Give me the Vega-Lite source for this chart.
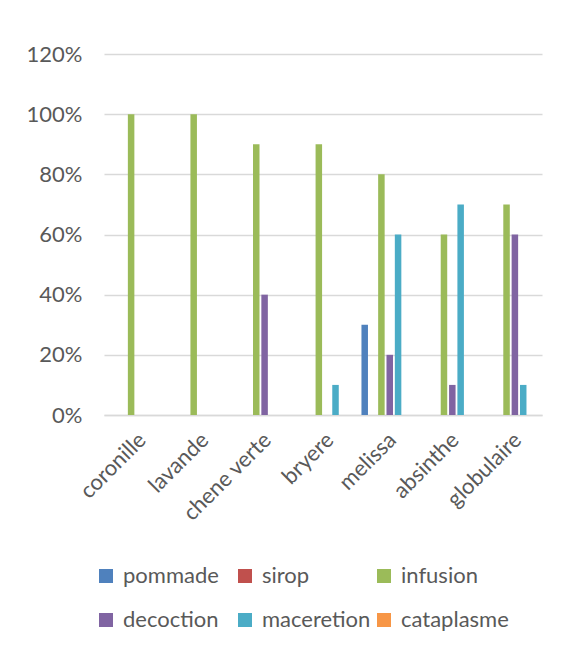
{
  "$schema": "https://vega.github.io/schema/vega-lite/v6.json",
  "autosize": {"type": "none"},
  "width": 438,
  "height": 361,
  "padding": {"left": 104, "top": 54, "right": 38, "bottom": 235},
  "background": "white",
  "config": {
    "font": "Lato",
    "view": {"stroke": null},
    "axis": {
      "labelColor": "#595959",
      "labelFont": "Lato",
      "labelFontSize": 22,
      "ticks": false,
      "title": null,
      "domainColor": "#d9d9d9",
      "domainWidth": 1.5,
      "gridColor": "#d9d9d9",
      "gridWidth": 1.5
    }
  },
  "data": {
    "values": [
      {"plante": "coronille", "usage": "infusion", "part": 1.0},
      {"plante": "lavande", "usage": "infusion", "part": 1.0},
      {"plante": "chene verte", "usage": "infusion", "part": 0.9},
      {"plante": "chene verte", "usage": "decoction", "part": 0.4},
      {"plante": "bryere", "usage": "infusion", "part": 0.9},
      {"plante": "bryere", "usage": "maceretion", "part": 0.1},
      {"plante": "melissa", "usage": "pommade", "part": 0.3},
      {"plante": "melissa", "usage": "infusion", "part": 0.8},
      {"plante": "melissa", "usage": "decoction", "part": 0.2},
      {"plante": "melissa", "usage": "maceretion", "part": 0.6},
      {"plante": "absinthe", "usage": "infusion", "part": 0.6},
      {"plante": "absinthe", "usage": "decoction", "part": 0.1},
      {"plante": "absinthe", "usage": "maceretion", "part": 0.7},
      {"plante": "globulaire", "usage": "infusion", "part": 0.7},
      {"plante": "globulaire", "usage": "decoction", "part": 0.6},
      {"plante": "globulaire", "usage": "maceretion", "part": 0.1}
    ]
  },
  "mark": {"type": "bar"},
  "encoding": {
    "x": {
      "field": "plante",
      "type": "nominal",
      "sort": ["coronille", "lavande", "chene verte", "bryere", "melissa", "absinthe", "globulaire"],
      "scale": {"paddingInner": 0.2, "paddingOuter": 0.1},
      "axis": {"labelAngle": -45, "labelPadding": 14, "grid": false}
    },
    "xOffset": {
      "field": "usage",
      "type": "nominal",
      "scale": {
        "domain": ["pommade", "sirop", "infusion", "decoction", "maceretion", "cataplasme"],
        "paddingInner": 0.22,
        "paddingOuter": 0.11
      }
    },
    "y": {
      "field": "part",
      "type": "quantitative",
      "scale": {"domain": [0, 1.2], "nice": false},
      "axis": {
        "values": [0, 0.2, 0.4, 0.6, 0.8, 1.0, 1.2],
        "format": ".0%",
        "domain": false,
        "labelPadding": 22,
        "grid": true
      }
    },
    "color": {
      "field": "usage",
      "type": "nominal",
      "scale": {
        "domain": ["pommade", "sirop", "infusion", "decoction", "maceretion", "cataplasme"],
        "range": ["#4F81BD", "#C0504D", "#9BBB59", "#8064A2", "#4BACC6", "#F79646"]
      },
      "legend": {
        "title": null,
        "orient": "none",
        "legendX": -9,
        "legendY": 511,
        "direction": "horizontal",
        "columns": 3,
        "gridAlign": "all",
        "columnPadding": 2,
        "rowPadding": 22,
        "padding": 0,
        "symbolType": "square",
        "symbolSize": 196,
        "symbolStrokeWidth": 0,
        "labelOffset": 6,
        "labelFont": "Lato",
        "labelFontSize": 22,
        "labelColor": "#595959",
        "labelLimit": 200
      }
    }
  }
}
